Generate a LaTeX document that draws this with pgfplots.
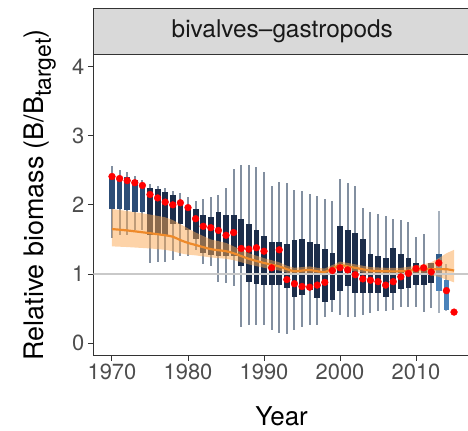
\documentclass[border=0pt]{standalone}
\usepackage{pgfplots}
\usepackage{pgfplotstable}
\pgfplotsset{compat=1.18}
\usepackage{fontspec}
\setmainfont{TeX Gyre Heros}

\definecolor{Navy}{HTML}{1C2D4A}
\definecolor{NavyLight}{HTML}{2C4D77}
\definecolor{Steel}{HTML}{4A82BA}
\definecolor{SteelDark}{HTML}{2F5C8C}
\definecolor{Whisk}{HTML}{828FA0}
\definecolor{Ribbon}{HTML}{FBA751}
\definecolor{OrangeLine}{HTML}{EE8A2A}
\definecolor{RefGray}{HTML}{C9C9C9}
\definecolor{AxisGray}{HTML}{333333}
\definecolor{TickText}{HTML}{4D4D4D}
\definecolor{StripFill}{HTML}{D9D9D9}

% yearly spread: whiskers, boxes, red point
\pgfplotstableread{
year wlo  whi  qlo  qhi  dot
1970 1.52 2.56 1.94 2.43 2.41
1971 1.57 2.51 1.94 2.41 2.38
1972 1.57 2.47 1.92 2.40 2.35
1973 1.64 2.42 1.90 2.36 2.32
1974 1.64 2.36 1.89 2.32 2.28
1975 1.16 2.30 1.57 2.25 2.15
1976 1.17 2.27 1.57 2.23 2.10
1977 1.18 2.25 1.57 2.19 2.04
1978 1.21 2.20 1.72 2.14 2.00
1979 1.26 2.17 1.73 2.06 2.03
1980 1.26 2.11 1.64 1.99 1.96
1981 1.35 2.06 1.50 1.94 1.80
1982 1.14 2.09 1.31 1.85 1.69
1983 1.11 2.11 1.28 1.82 1.67
1984 0.89 2.14 1.26 1.89 1.63
1985 0.87 2.25 1.26 1.85 1.56
1986 0.83 2.52 1.26 1.85 1.60
1987 0.24 2.57 1.11 1.80 1.37
1988 0.26 2.57 0.88 1.73 1.36
1989 0.26 2.54 0.85 1.64 1.38
1990 0.26 2.47 0.84 1.55 1.33
1991 0.19 2.27 0.84 1.46 1.09
1992 0.15 2.33 0.84 1.46 1.35
1993 0.14 2.32 0.80 1.44 0.92
1994 0.19 2.22 0.67 1.49 0.86
1995 0.24 2.20 0.70 1.50 0.82
1996 0.26 2.16 0.77 1.47 0.81
1997 0.27 2.13 0.65 1.43 0.84
1998 0.38 2.09 0.60 1.36 0.88
1999 0.45 2.06 0.62 1.30 1.05
2000 0.41 2.37 0.75 1.69 1.09
2001 0.38 2.32 0.82 1.64 1.06
2002 0.38 2.27 0.72 1.60 0.99
2003 0.41 1.95 0.72 1.51 0.93
2004 0.43 1.90 0.72 1.29 0.91
2005 0.46 1.87 0.72 1.26 0.89
2006 0.46 1.84 0.67 1.23 0.84
2007 0.48 1.80 0.72 1.37 0.89
2008 0.53 1.78 0.78 1.29 0.96
2009 0.53 1.75 0.80 1.23 1.01
2010 0.52 1.53 0.84 1.16 1.08
2011 0.45 1.58 0.84 1.11 1.09
2012 0.51 1.16 0.87 1.16 1.03
}\spread

% last years (projection)
\pgfplotstableread{
year wlo  whi  qlo  qhi  dot
2013 0.44 1.91 0.76 1.16 1.16
2014 0.47 1.15 0.48 0.91 0.76
2015 0.45 0.45 0.45 0.45 0.45
}\proj

% smoothed trend
\pgfplotstableread{
year mid
1970 1.65
1972 1.63
1975 1.59
1977 1.56
1978 1.54
1979 1.49
1980 1.45
1981 1.42
1983 1.36
1985 1.33
1986 1.30
1987 1.26
1988 1.22
1990 1.16
1992 1.11
1993 1.07
1994 1.04
1995 1.05
1996 1.06
1997 1.04
1998 1.03
1999 1.08
2000 1.13
2001 1.11
2002 1.09
2004 1.05
2006 1.04
2008 1.04
2010 1.06
2011 1.07
2012 1.07
2013 1.07
2014 1.07
2015 1.05
}\trend

\pgfplotsset{
  bar/.style 2 args={draw=none, mark=none, forget plot,
    error bars/y dir=both, error bars/y explicit, error bars/error mark=none,
    error bars/error bar style={draw=#1, line width=#2}},
}

\begin{document}
\begin{tikzpicture}
\begin{axis}[
  at={(0,0)}, anchor=south west,
  scale only axis, width=376.7bp, height=301bp,
  xmin=1967.54, xmax=2017.1, ymin=-0.17, ymax=4.18,
  axis x line*=bottom, axis y line*=left,
  axis line style={AxisGray, line width=1bp, -},
  xtick={1970,1980,1990,2000,2010}, ytick={0,1,2,3,4},
  tick align=outside, major tick length=5.5bp,
  tick style={AxisGray, line width=1bp},
  ticklabel style={font=\fontsize{22}{24}\selectfont, text=TickText},
  /pgf/number format/assume math mode=true,
  x tick label style={/pgf/number format/1000 sep={}},
]
% whiskers
\addplot[bar={Whisk}{2bp}] table[x=year, y expr={(\thisrow{wlo}+\thisrow{whi})/2},
  y error expr={(\thisrow{whi}-\thisrow{wlo})/2}] {\spread};
\addplot[bar={Whisk!70}{2bp}, restrict x to domain=2013:2014] table[x=year,
  y expr={(\thisrow{wlo}+\thisrow{whi})/2},
  y error expr={(\thisrow{whi}-\thisrow{wlo})/2}] {\proj};
% boxes
\addplot[bar={NavyLight}{5.8bp}, restrict x to domain=1970:1974] table[x=year,
  y expr={(\thisrow{qlo}+\thisrow{qhi})/2},
  y error expr={(\thisrow{qhi}-\thisrow{qlo})/2}] {\spread};
\addplot[bar={Navy}{5.8bp}, restrict x to domain=1975:2012] table[x=year,
  y expr={(\thisrow{qlo}+\thisrow{qhi})/2},
  y error expr={(\thisrow{qhi}-\thisrow{qlo})/2}] {\spread};
\addplot[bar={Steel}{5.8bp}, restrict x to domain=2013:2014] table[x=year,
  y expr={(\thisrow{qlo}+\thisrow{qhi})/2},
  y error expr={(\thisrow{qhi}-\thisrow{qlo})/2}] {\proj};
\addplot[bar={SteelDark}{5.8bp}] coordinates {(2013,1.225) +- (0,0.065)};
% band round the trend
\addplot[fill=Ribbon, fill opacity=0.5, draw=none] coordinates {
  (1970,1.94) (1972,1.91) (1975,1.86) (1977,1.82) (1978,1.78) (1979,1.72)
  (1980,1.66) (1981,1.60) (1983,1.50) (1985,1.45) (1986,1.40) (1987,1.35)
  (1988,1.30) (1990,1.23) (1992,1.17) (1993,1.12) (1994,1.09) (1995,1.10)
  (1996,1.11) (1997,1.09) (1998,1.08) (1999,1.13) (2000,1.18) (2001,1.16)
  (2002,1.14) (2004,1.10) (2006,1.09) (2008,1.09) (2010,1.12) (2011,1.14)
  (2012,1.17) (2013,1.23) (2014,1.30) (2015,1.35)
  (2015,0.88) (2014,0.92) (2013,0.96) (2012,0.98) (2011,1.00) (2010,1.00)
  (2008,0.99) (2006,0.99) (2004,1.00) (2002,1.04) (2001,1.06) (2000,1.08)
  (1999,1.03) (1998,0.98) (1997,0.99) (1996,1.01) (1995,1.00) (1994,0.99)
  (1993,1.02) (1992,1.05) (1990,1.09) (1988,1.14) (1987,1.17) (1986,1.20)
  (1985,1.22) (1983,1.24) (1981,1.27) (1980,1.28) (1979,1.30) (1978,1.33)
  (1977,1.35) (1975,1.37) (1972,1.39) (1970,1.40)
} -- cycle;
% target line
\addplot[RefGray, line width=1.7bp] coordinates {(1967.54,1) (2017.1,1)};
% trend
\addplot[OrangeLine, line width=2.2bp, smooth] table[x=year, y=mid] {\trend};
% points
\addplot[only marks, mark=*, mark size=3.4bp, color=red, mark options={draw=none, fill=red}]
  table[x=year, y=dot] {\spread};
\addplot[only marks, mark=*, mark size=3.4bp, color=red, mark options={draw=none, fill=red}]
  table[x=year, y=dot] {\proj};
\end{axis}

% facet strip
\draw[fill=StripFill, draw=AxisGray, line width=0.9bp] (0,301bp) rectangle (376.7bp,347bp);
\node[font=\fontsize{24.5}{26}\selectfont, text=black!90] at (189bp,324bp) {bivalves–gastropods};
% axis titles
\node[rotate=90, anchor=base, font=\fontsize{27}{30}\selectfont] at (-50bp,160bp)
  {Relative biomass (B/B\raisebox{-0.28em}{\fontsize{23}{24}\selectfont target})};
\node[anchor=base, font=\fontsize{26}{28}\selectfont] at (188.3bp,-70bp) {Year};

\pgfresetboundingbox
\path[use as bounding box] (-93.3bp,-76bp) rectangle (374.7bp,355bp);
\end{tikzpicture}
\end{document}
